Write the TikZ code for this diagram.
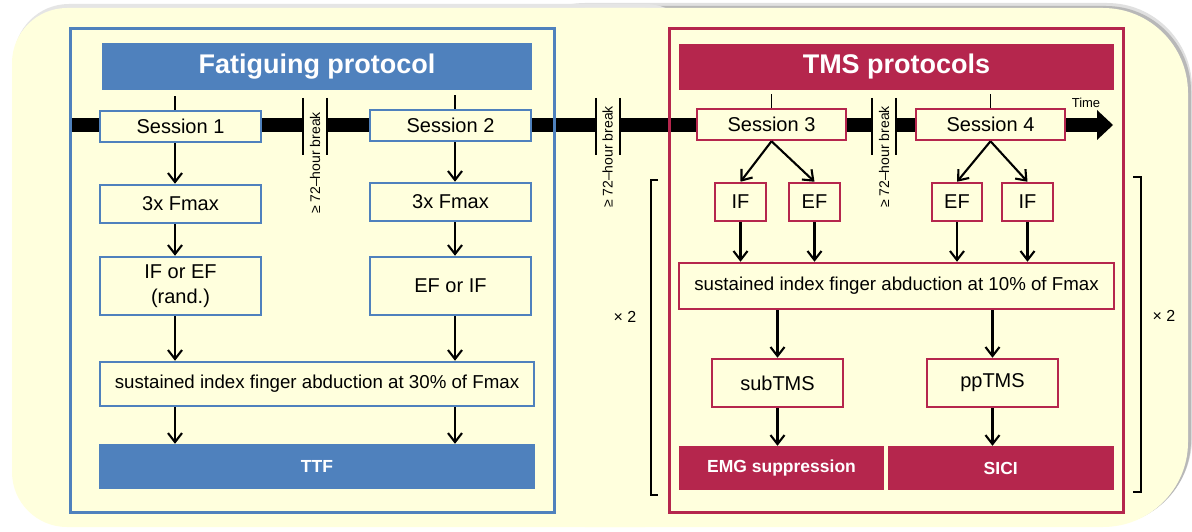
\documentclass[tikz,border=0pt]{standalone}
\usepackage{fontspec}
\setmainfont{Liberation Sans}
\usetikzlibrary{arrows.meta}
\definecolor{fatblue}{RGB}{79,129,189}
\definecolor{tmsred}{RGB}{181,38,77}
\definecolor{paper}{RGB}{255,255,221}

\begin{document}
\begin{tikzpicture}
        [x=1pt,y=-1pt,
         every node/.style={inner sep=0pt,align=center,font=\fontsize{20}{25}\selectfont},
         bluebox/.style={draw=fatblue,line width=2.5pt,fill=paper},
         redbox/.style={draw=tmsred,line width=2.5pt,fill=paper},
         header/.style={text=white,font=\bfseries\fontsize{27}{30}\selectfont},
         result/.style={text=white,font=\bfseries\fontsize{17.5}{20}\selectfont},
         arr/.style={-{Straight Barb[length=9pt,width=14pt]},line width=2.1pt},
         wh/.style 2 args={minimum width=#1pt,minimum height=#2pt}]
        \useasboundingbox (0,0) rectangle (1192,532);
        \fill[white] (0,0) rectangle (1192,532);

        % background panel with shadow
        \fill[black!12,rounded corners=85pt] (500,3) rectangle (1192,523);
        \fill[black!28,rounded corners=85pt] (500,6) rectangle (1191,525);
        \fill[black!10,rounded corners=55pt] (14,4) rectangle (700,525);
        \fill[paper,rounded corners=55pt] (12,8) rectangle (700,527);
        \fill[paper,rounded corners=85pt] (500,8) rectangle (1188,527);

        % time line
        \coordinate (tstart) at (70,125);
        \coordinate (tend) at (1097,125);
        \coordinate (ttip) at (1113,125);
        \draw[line width=14pt] (tstart) -- (tend);
        \fill ([yshift=15pt]tend) -- (ttip) -- ([yshift=-15pt]tend) -- cycle;
        \node[font=\fontsize{13}{15}\selectfont] (time) at (1086,103) {Time};

        \foreach \bx/\ty in {315/163,607.5/157,884/157}{
            \fill[paper] (\bx-11,116) rectangle (\bx+11,134);
            \draw[line width=2pt] (\bx-12,98) -- (\bx-12,155) (\bx+12,98) -- (\bx+12,155);
            \node[rotate=90,font=\fontsize{14}{16}\selectfont] at (\bx,\ty) {≥ 72–hour break};
        }

        % frames
        \draw[fatblue,line width=3pt] (70,29) rectangle (554,512);
        \draw[tmsred,line width=3pt] (669,29) rectangle (1123,512);
        \node[header,fill=fatblue,wh={430}{47}] (fathead) at (317,66.5) {Fatiguing protocol};
        \node[header,fill=tmsred,wh={435}{46}] (tmshead) at (896.5,67) {TMS protocols};

        % fatiguing protocol
        \coordinate (colA) at (175,0);
        \coordinate (colB) at (455,0);
        \node[bluebox,wh={161}{31}] (s1) at (180.5,126.5) {Session 1};
        \node[bluebox,wh={161}{31}] (s2) at (450.5,125.5) {Session 2};
        \node[bluebox,wh={161}{38}] (fmaxA) at (180.5,204) {3x Fmax};
        \node[bluebox,wh={161}{38}] (fmaxB) at (450.5,202) {3x Fmax};
        \node[bluebox,wh={161}{58}] (fatA) at (180.5,286) {IF or EF\\(rand.)};
        \node[bluebox,wh={161}{58}] (fatB) at (450.5,286) {EF or IF};
        \node[bluebox,wh={434}{44},font=\fontsize{18.7}{22}\selectfont] (sus30) at (317,384)
            {sustained index finger abduction at 30\% of Fmax};
        \node[result,fill=fatblue,wh={436}{45}] (ttf) at (317,466.5) {TTF};

        \foreach \c/\s/\f/\p in {colA/s1/fmaxA/fatA,colB/s2/fmaxB/fatB}{
            \draw[line width=1.8pt] (\s.north -| \c) -- ++(0,-14);
            \draw[arr] (\s.south -| \c) -- (\f.north -| \c);
            \draw[arr] (\f.south -| \c) -- (\p.north -| \c);
            \draw[arr] (\p.south -| \c) -- (sus30.north -| \c);
            \draw[arr] (sus30.south -| \c) -- (ttf.north -| \c);
        }

        % TMS protocols
        \node[redbox,wh={149}{31}] (s3) at (771.5,124.5) {Session 3};
        \node[redbox,wh={149}{31}] (s4) at (990.5,124.5) {Session 4};
        \node[redbox,wh={51}{38}] (ifA) at (740.5,202) {IF};
        \node[redbox,wh={51}{38}] (efA) at (814.5,202) {EF};
        \node[redbox,wh={50}{38}] (efB) at (957,202) {EF};
        \node[redbox,wh={51}{38}] (ifB) at (1027.5,202) {IF};
        \node[redbox,wh={435}{46},font=\fontsize{18.7}{22}\selectfont] (sus10) at (896.5,286)
            {sustained index finger abduction at 10\% of Fmax};
        \node[redbox,wh={131}{48}] (sub) at (777.5,383) {subTMS};
        \node[redbox,wh={131}{48}] (pp) at (992.5,383) {ppTMS};
        \node[result,fill=tmsred,wh={205}{44}] (emg) at (781.5,468) {EMG suppression};
        \node[result,fill=tmsred,wh={226.5}{44}] (sici) at (1000.75,468) {SICI};

        \draw[line width=1.8pt] (s3.north) -- ++(0,-14);
        \draw[line width=1.8pt] (s4.north) -- ++(0,-14);
        \draw[arr] (s3.south) -- (ifA.north);
        \draw[arr] (s3.south) -- (efA.north);
        \draw[arr] (s4.south) -- (efB.north);
        \draw[arr] (s4.south) -- (ifB.north);
        \foreach \n in {ifA,efA,efB,ifB}
            \draw[arr] (\n.south) -- (\n.south |- sus10.north);
        \draw[arr] (sus10.south -| sub) -- (sub.north);
        \draw[arr] (sus10.south -| pp) -- (pp.north);
        \draw[arr] (sub.south) -- (sub.south |- emg.north);
        \draw[arr] (pp.south) -- (pp.south |- sici.north);

        % repetition brackets
        \draw[line width=2pt] (658,180) -| (651,495) -- (658,495);
        \draw[line width=2pt] (1133,177) -| (1141,492) -- (1133,492);
        \node[font=\fontsize{16}{18}\selectfont] (repA) at (625,317) {× 2};
        \node[font=\fontsize{16}{18}\selectfont] (repB) at (1164,316) {× 2};
    \end{tikzpicture}
\end{document}
